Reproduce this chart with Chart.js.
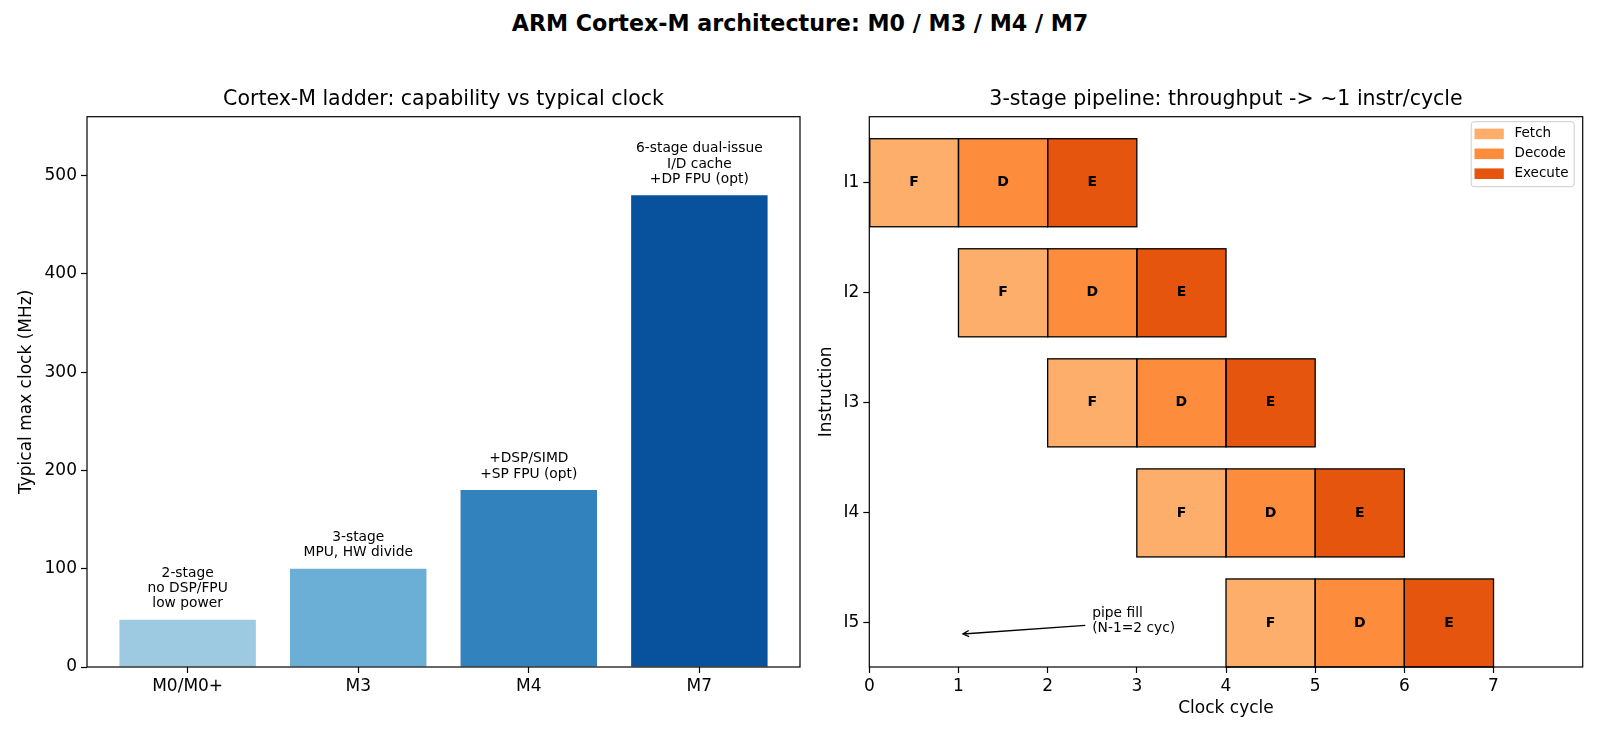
<!DOCTYPE html>
<html lang="en">
<head>
    <meta charset="UTF-8">
    <title>ARM Cortex-M architecture</title>
    <script src="https://cdn.jsdelivr.net/npm/chart.js@4.4.1/dist/chart.umd.min.js"></script>
    <style>
        html, body {
            margin: 0;
            padding: 0;
            background: #fff;
        }
        body {
            width: 1600px;
            height: 738px;
            position: relative;
            overflow: hidden;
            font-family: "DejaVu Sans", sans-serif;
        }
        #suptitle {
            position: absolute;
            left: 0;
            top: 9px;
            width: 1600px;
            text-align: center;
            font-weight: bold;
            font-size: 22.2px;
            line-height: 28px;
            color: #000;
        }
        #ladderChart {
            position: absolute;
            left: 0;
            top: 0;
        }
        #pipeChart {
            position: absolute;
            left: 805px;
            top: 0;
        }
    </style>
</head>
<body>

    <div id="suptitle">ARM Cortex-M architecture: M0 / M3 / M4 / M7</div>

    <!-- left: clock ladder, right: pipeline diagram -->
    <canvas id="ladderChart" width="805" height="738"></canvas>
    <canvas id="pipeChart" width="795" height="738"></canvas>

    <script>
        // Left chart data
        const cores = ["M0/M0+", "M3", "M4", "M7"];
        const clockMHz = [48, 100, 180, 480];
        const coreColors = ["#9ecae1", "#6baed6", "#3182bd", "#08519c"];
        const coreNotes = [
            ["2-stage", "no DSP/FPU", "low power"],
            ["3-stage", "MPU, HW divide"],
            ["+DSP/SIMD", "+SP FPU (opt)"],
            ["6-stage dual-issue", "I/D cache", "+DP FPU (opt)"]
        ];
        const clockTicks = [0, 100, 200, 300, 400, 500];

        // Right chart data
        const instrs = ["I1", "I2", "I3", "I4", "I5"];
        const fetchSpan = [[0, 1], [1, 2], [2, 3], [3, 4], [4, 5]];
        const decodeSpan = [[1, 2], [2, 3], [3, 4], [4, 5], [5, 6]];
        const executeSpan = [[2, 3], [3, 4], [4, 5], [5, 6], [6, 7]];
        const stageNames = ["Fetch", "Decode", "Execute"];
        const stageLetters = ["F", "D", "E"];
        const stageColors = ["#fdae6b", "#fd8d3c", "#e6550d"];
        const cycleTicks = [0, 1, 2, 3, 4, 5, 6, 7];
        const fillNoteText = ["pipe fill", "(N-1=2 cyc)"];
        const fillNoteAt = [2.5, 3.98];
        const fillArrowTip = [1.05, 4.1];

        const FONT = '"DejaVu Sans", sans-serif';
        const TICK_SIZE = 17;
        Chart.defaults.font.family = FONT;
        Chart.defaults.color = "#000";

        const tickGrid = {
            display: true,
            drawOnChartArea: false,
            drawTicks: true,
            tickLength: 6,
            tickColor: "#000",
            tickWidth: 1.2,
            offset: false
        };

        // matplotlib-style box around the plot area, title centred over the axes
        const framePlugin = {
            id: "frame",
            afterLayout(chart) {
                if (chart.titleBlock) {
                    chart.titleBlock.left = chart.chartArea.left;
                    chart.titleBlock.right = chart.chartArea.right;
                    chart.titleBlock.width = chart.chartArea.right - chart.chartArea.left;
                }
            },
            afterDatasetsDraw(chart) {
                const { ctx, chartArea: a } = chart;
                ctx.save();
                ctx.strokeStyle = "#000";
                ctx.lineWidth = 1.2;
                ctx.strokeRect(a.left, a.top, a.right - a.left, a.bottom - a.top);
                ctx.restore();
            }
        };

        // text over each bar of the ladder chart
        const ladderNotesPlugin = {
            id: "ladderNotes",
            afterDatasetsDraw(chart) {
                const ctx = chart.ctx;
                const meta = chart.getDatasetMeta(0);
                ctx.save();
                ctx.font = "13.8px " + FONT;
                ctx.fillStyle = "#000";
                ctx.textAlign = "center";
                ctx.textBaseline = "middle";
                meta.data.forEach((bar, i) => {
                    const lines = coreNotes[i];
                    lines.forEach((line, j) => {
                        ctx.fillText(line, bar.x, bar.y - 16 - (lines.length - 1 - j) * 15.3);
                    });
                });
                ctx.restore();
            }
        };

        // edges, stage letters, the pipe-fill note and the legend
        const pipePlugin = {
            id: "pipeExtras",
            afterDatasetsDraw(chart) {
                const ctx = chart.ctx;
                const xs = chart.scales.x, ys = chart.scales.y;
                ctx.save();

                chart.data.datasets.forEach((ds, k) => {
                    chart.getDatasetMeta(k).data.forEach(bar => {
                        const p = bar.getProps(["x", "y", "base", "height"], true);
                        const left = Math.min(p.x, p.base), right = Math.max(p.x, p.base);
                        ctx.strokeStyle = "#000";
                        ctx.lineWidth = 1.3;
                        ctx.strokeRect(left, p.y - p.height / 2, right - left, p.height);
                        ctx.fillStyle = "#000";
                        ctx.font = "bold 14px " + FONT;
                        ctx.textAlign = "center";
                        ctx.textBaseline = "middle";
                        ctx.fillText(ds.stageLetter, (left + right) / 2, p.y);
                    });
                });

                // pipe fill note with arrow
                const tx = xs.getPixelForValue(fillNoteAt[0]);
                const ty = ys.getPixelForValue(fillNoteAt[1]);
                ctx.font = "13.8px " + FONT;
                ctx.textAlign = "left";
                ctx.textBaseline = "middle";
                ctx.fillText(fillNoteText[0], tx, ty - 7.7);
                ctx.fillText(fillNoteText[1], tx, ty + 7.7);
                const sx = tx - 7, sy = ty + 4.5;
                const ex = xs.getPixelForValue(fillArrowTip[0]);
                const ey = ys.getPixelForValue(fillArrowTip[1]);
                const ang = Math.atan2(ey - sy, ex - sx);
                ctx.strokeStyle = "#000";
                ctx.lineWidth = 1.3;
                ctx.beginPath();
                ctx.moveTo(sx, sy);
                ctx.lineTo(ex, ey);
                ctx.moveTo(ex - 6 * Math.cos(ang) - 3 * Math.sin(ang), ey - 6 * Math.sin(ang) + 3 * Math.cos(ang));
                ctx.lineTo(ex, ey);
                ctx.lineTo(ex - 6 * Math.cos(ang) + 3 * Math.sin(ang), ey - 6 * Math.sin(ang) - 3 * Math.cos(ang));
                ctx.stroke();

                // legend box, upper right
                const a = chart.chartArea;
                const bw = 103, bh = 65;
                const bx = a.right - 8.5 - bw, by = a.top + 5;
                ctx.fillStyle = "rgba(255,255,255,0.8)";
                ctx.strokeStyle = "#cccccc";
                ctx.lineWidth = 1;
                ctx.beginPath();
                ctx.roundRect(bx, by, bw, bh, 3);
                ctx.fill();
                ctx.stroke();
                ctx.font = "13.5px " + FONT;
                chart.data.datasets.forEach((ds, k) => {
                    const cy = by + 12.2 + k * 19.9;
                    ctx.fillStyle = ds.backgroundColor;
                    ctx.fillRect(bx + 3.3, cy - 5.3, 29.3, 10.6);
                    ctx.fillStyle = "#000";
                    ctx.fillText(ds.label, bx + 43.3, cy);
                });

                ctx.restore();
            }
        };

        // Cortex-M ladder bar chart
        new Chart(document.getElementById("ladderChart"), {
            type: "bar",
            data: {
                datasets: [{
                    data: clockMHz.map((v, i) => ({ x: i, y: v })),
                    backgroundColor: coreColors,
                    barPercentage: 0.8,
                    categoryPercentage: 1.0
                }]
            },
            options: {
                responsive: false,
                animation: false,
                devicePixelRatio: 1,
                layout: { padding: { left: 16.8, right: 5, top: 0, bottom: 20 } },
                plugins: {
                    legend: { display: false },
                    tooltip: { enabled: false },
                    title: {
                        display: true,
                        text: "Cortex-M ladder: capability vs typical clock",
                        font: { size: 20.5, weight: "normal" },
                        color: "#000",
                        padding: { top: 87.5, bottom: 4.6 }
                    }
                },
                scales: {
                    x: {
                        type: "linear",
                        min: -0.59,
                        max: 3.59,
                        offset: false,
                        afterBuildTicks: s => { s.ticks = cores.map((c, i) => ({ value: i })); },
                        afterFit: s => { s.height = 51; },
                        ticks: { callback: v => cores[v], font: { size: TICK_SIZE }, padding: 3.3, color: "#000", maxRotation: 0, autoSkip: false },
                        grid: tickGrid,
                        border: { display: false }
                    },
                    y: {
                        min: 0,
                        max: 560,
                        afterBuildTicks: s => { s.ticks = clockTicks.map(v => ({ value: v })); },
                        afterFit: s => { s.width = 87 - 16.8; },
                        title: { display: true, text: "Typical max clock (MHz)", font: { size: TICK_SIZE }, padding: 0, color: "#000" },
                        ticks: { font: { size: TICK_SIZE }, padding: 4, color: "#000" },
                        grid: tickGrid,
                        border: { display: false }
                    }
                }
            },
            plugins: [framePlugin, ladderNotesPlugin]
        });

        // 3-stage pipeline chart
        new Chart(document.getElementById("pipeChart"), {
            type: "bar",
            data: {
                datasets: [fetchSpan, decodeSpan, executeSpan].map((spans, k) => ({
                    label: stageNames[k],
                    stageLetter: stageLetters[k],
                    data: spans.map((s, i) => ({ x: s, y: i })),
                    backgroundColor: stageColors[k],
                    borderWidth: 0,
                    grouped: false,
                    barPercentage: 0.8,
                    categoryPercentage: 1.0
                }))
            },
            options: {
                indexAxis: "y",
                responsive: false,
                animation: false,
                devicePixelRatio: 1,
                layout: { padding: { left: 11.8, right: 17.3, top: 0, bottom: 19.5 } },
                plugins: {
                    legend: { display: false },
                    tooltip: { enabled: false },
                    title: {
                        display: true,
                        text: "3-stage pipeline: throughput -> ~1 instr/cycle",
                        font: { size: 20.5, weight: "normal" },
                        color: "#000",
                        padding: { top: 87.5, bottom: 4.6 }
                    }
                },
                scales: {
                    x: {
                        type: "linear",
                        min: 0,
                        max: 8,
                        afterBuildTicks: s => { s.ticks = cycleTicks.map(v => ({ value: v })); },
                        afterFit: s => { s.height = 51.5; },
                        title: { display: true, text: "Clock cycle", font: { size: TICK_SIZE }, padding: 0, color: "#000" },
                        ticks: { font: { size: TICK_SIZE }, padding: 3.3, color: "#000", maxRotation: 0, autoSkip: false },
                        grid: tickGrid,
                        border: { display: false }
                    },
                    y: {
                        type: "linear",
                        reverse: true,
                        min: -0.6,
                        max: 4.4,
                        offset: false,
                        afterBuildTicks: s => { s.ticks = instrs.map((n, i) => ({ value: i })); },
                        afterFit: s => { s.width = 869.3 - 805 - 11.8; },
                        title: { display: true, text: "Instruction", font: { size: TICK_SIZE }, padding: 0, color: "#000" },
                        ticks: { callback: v => instrs[v], font: { size: TICK_SIZE }, padding: 4, color: "#000" },
                        grid: tickGrid,
                        border: { display: false }
                    }
                }
            },
            plugins: [framePlugin, pipePlugin]
        });
    </script>

</body>
</html>
